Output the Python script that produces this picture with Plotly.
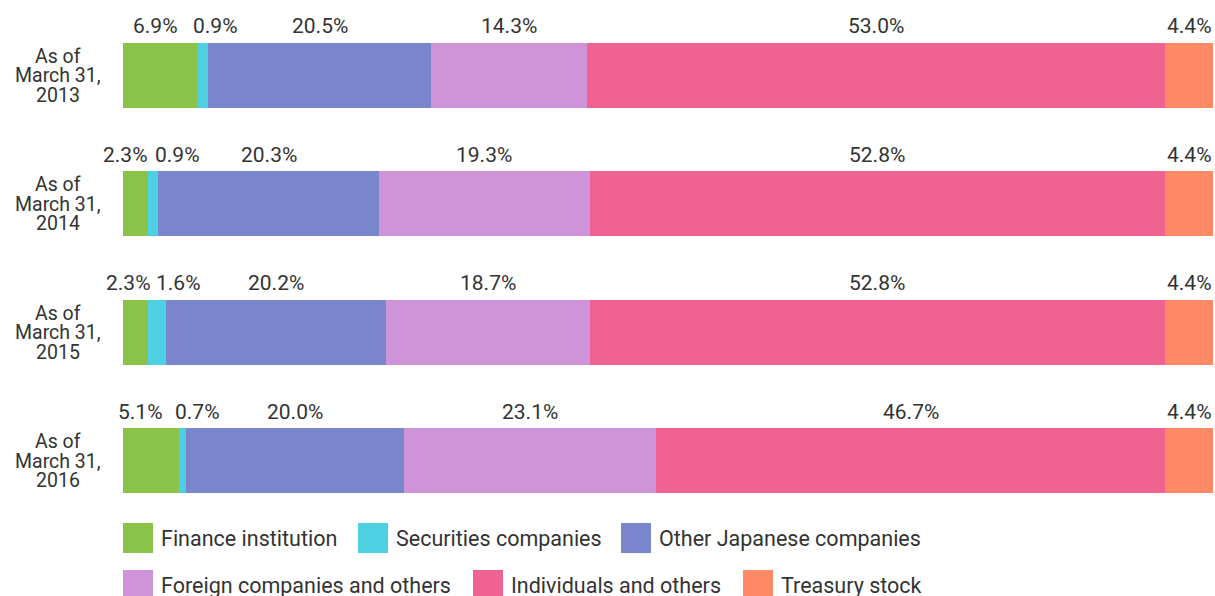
import plotly.graph_objects as go

# ---- data ----
years = ["2013", "2014", "2015", "2016"]
series_names = ["Finance institution", "Securities companies", "Other Japanese companies",
                "Foreign companies and others", "Individuals and others", "Treasury stock"]
finance = [6.9, 2.3, 2.3, 5.1]
securities = [0.9, 0.9, 1.6, 0.7]
other_japanese = [20.5, 20.3, 20.2, 20.0]
foreign = [14.3, 19.3, 18.7, 23.1]
individuals = [53.0, 52.8, 52.8, 46.7]
treasury = [4.4, 4.4, 4.4, 4.4]

# ---- styles ----
colors = ["#8BC34A", "#4DD0E1", "#7986CB", "#CE93D8", "#F06292", "#FF8A65"]
FONT = "Roboto"
TXT = "#333333"
W, H = 1215, 596
ML, MR, MT, MB = 123, 2, 11, 71
# per-row pixel nudges for the first two (narrow) segment labels
label_nudge = [[-5, 12], [-10, 25], [-7, 22], [-10, 15]]

series = [finance, securities, other_japanese, foreign, individuals, treasury]
cats = list(range(len(years)))

fig = go.Figure()
for name, vals, col in zip(series_names, series, colors):
    fig.add_trace(go.Bar(
        y=cats, x=vals, name=name, orientation="h",
        marker=dict(color=col, line=dict(width=0)),
        showlegend=False, hoverinfo="x+name",
    ))

annotations = []
# value labels above each segment
for i, _ in enumerate(years):
    cum = 0.0
    for k, vals in enumerate(series):
        v = vals[i]
        center = cum + v / 2
        cum += v
        xs = label_nudge[i][k] if k < 2 else 0
        annotations.append(dict(
            x=center, y=i, xref="x", yref="y", text=f"{v:.1f}%", showarrow=False,
            xanchor="center", yanchor="middle", yshift=49, xshift=xs,
            font=dict(family=FONT, size=21, color=TXT),
        ))

plot_w = W - ML - MR
plot_h = H - MT - MB


def px_x(px):
    return (px - ML) / plot_w


def px_y(py):
    return (H - MB - py) / plot_h


# category labels (three centered lines)
for i, yr in enumerate(years):
    for line, dy in zip(["As of", "March 31,", yr], [-19, 0.5, 20]):
        annotations.append(dict(
            x=px_x(58), y=i, xref="paper", yref="y", text=line, showarrow=False,
            xanchor="center", yanchor="middle", yshift=-dy,
            font=dict(family=FONT, size=19.5, color=TXT),
        ))

# manual legend with large square swatches
legend_pos = [(123, 523), (358, 523), (621, 523), (123, 570), (473, 570), (743, 570)]
shapes = []
for (lx, ly), name, col in zip(legend_pos, series_names, colors):
    shapes.append(dict(type="rect", xref="paper", yref="paper",
                       x0=px_x(lx), x1=px_x(lx + 30), y0=px_y(ly + 30), y1=px_y(ly),
                       fillcolor=col, line=dict(width=0)))
    annotations.append(dict(
        x=px_x(lx + 36), y=px_y(ly + 15), xref="paper", yref="paper", text=name,
        showarrow=False, xanchor="left", yanchor="middle",
        font=dict(family=FONT, size=21.5, color=TXT),
    ))

fig.update_layout(
    barmode="stack", bargap=0.495,
    width=W, height=H,
    margin=dict(l=ML, r=MR, t=MT, b=MB),
    paper_bgcolor="white", plot_bgcolor="white",
    xaxis=dict(range=[0, 100], visible=False, fixedrange=True),
    yaxis=dict(range=[3.5, -0.5], visible=False, fixedrange=True),
    annotations=annotations, shapes=shapes,
    font=dict(family=FONT, color=TXT),
    showlegend=False,
)

fig.write_html(
    "out.html",
    config={"displayModeBar": False},
    post_script="document.body.style.margin='0';document.body.style.overflow='hidden';",
)
